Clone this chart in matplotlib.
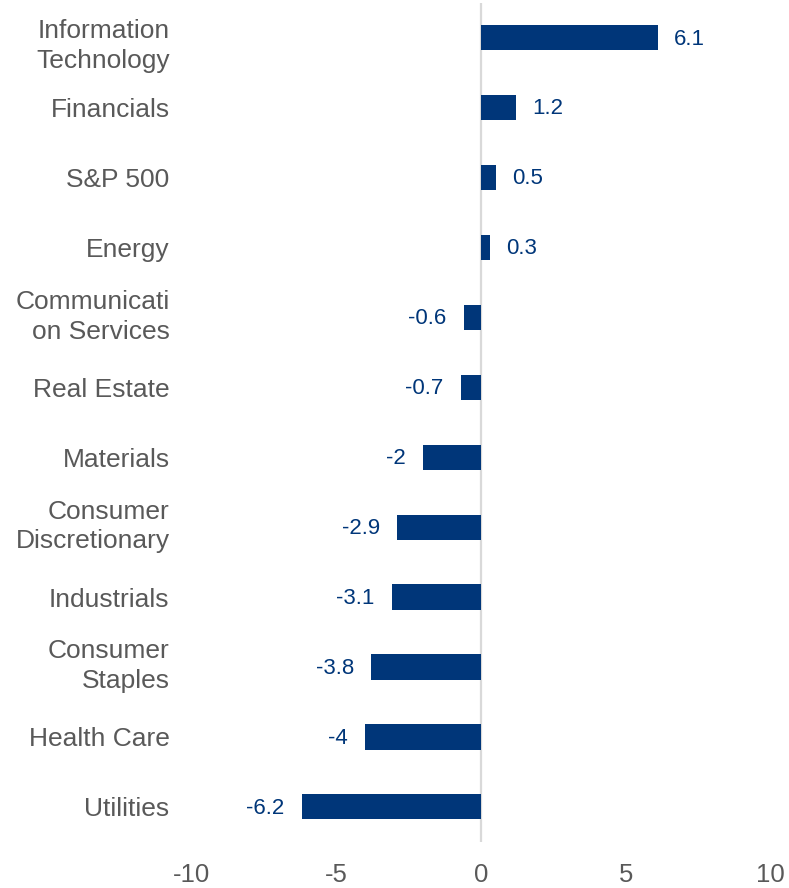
import matplotlib.pyplot as plt
from matplotlib.transforms import ScaledTranslation

plt.rcParams["font.family"] = ["Liberation Sans", "DejaVu Sans"]

sectors = [
    "Information\nTechnology",
    "Financials",
    "S&P 500",
    "Energy",
    "Communicati\non Services",
    "Real Estate",
    "Materials",
    "Consumer\nDiscretionary",
    "Industrials",
    "Consumer\nStaples",
    "Health Care",
    "Utilities",
]
returns = [6.1, 1.2, 0.5, 0.3, -0.6, -0.7, -2, -2.9, -3.1, -3.8, -4, -6.2]
xticks = [-10, -5, 0, 5, 10]

navy = "#003679"
grey = "#595959"

fig = plt.figure(figsize=(7.89, 8.88), dpi=100)
ax = fig.add_axes([0.243, 0.052, 0.734, 0.945])

pos = list(range(len(sectors)))[::-1]
ax.barh(pos, returns, height=0.36, color=navy, zorder=3)
ax.axvline(0, color="#d9d9d9", linewidth=1.6, zorder=2)

for y, v in zip(pos, returns):
    if v >= 0:
        ax.annotate(f"{v:g}", (v, y), xytext=(11.5, -1), textcoords="offset points",
                    ha="left", va="center", fontsize=16, color=navy)
    else:
        ax.annotate(f"{v:g}", (v, y), xytext=(-12.5, -1), textcoords="offset points",
                    ha="right", va="center", fontsize=16, color=navy)

ax.set_xlim(-10, 10)
ax.set_ylim(-0.5, len(sectors) - 0.5)
ax.set_xticks(xticks)
ax.set_xticklabels([str(t) for t in xticks], fontsize=18.5, color=grey)
ax.set_yticks(pos)
ax.set_yticklabels(sectors, fontsize=19, color=grey, multialignment="right",
                   linespacing=1.3)
ax.tick_params(axis="both", length=0)
ax.tick_params(axis="x", pad=15)
ax.tick_params(axis="y", pad=16)
# two-line labels sit slightly above their bars; the topmost one slightly below
up = ScaledTranslation(0, 6 / 100, fig.dpi_scale_trans)
down = ScaledTranslation(0, -3 / 100, fig.dpi_scale_trans)
for i, lbl in enumerate(ax.get_yticklabels()):
    if "\n" in sectors[i]:
        lbl.set_transform(lbl.get_transform() + (down if i == 0 else up))
for s in ax.spines.values():
    s.set_visible(False)

fig.savefig("out.png", dpi=100)
